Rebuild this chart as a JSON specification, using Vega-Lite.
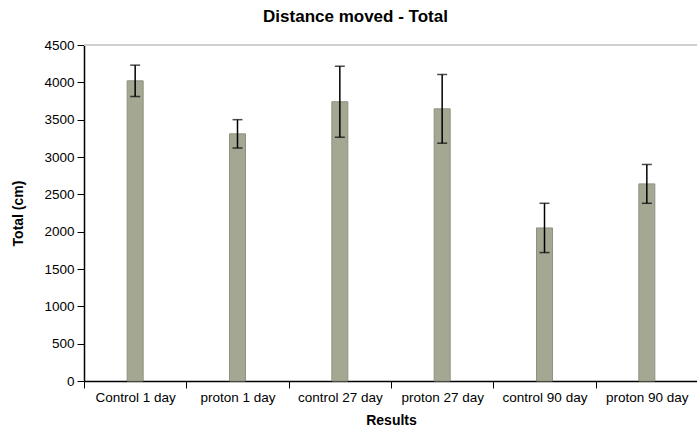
{
  "$schema": "https://vega.github.io/schema/vega-lite/v6.json",
  "width": 614,
  "height": 336,
  "autosize": {"type": "none"},
  "padding": {"left": 84, "top": 45, "right": 0, "bottom": 51},
  "background": "white",
  "title": {
    "text": "Distance moved - Total",
    "fontSize": 17,
    "font": "Liberation Sans",
    "fontWeight": "bold",
    "color": "black",
    "anchor": "middle",
    "frame": "bounds",
    "offset": 12
  },
  "config": {
    "view": {"stroke": null},
    "font": "Liberation Sans",
    "axis": {
      "labelFont": "Liberation Sans",
      "titleFont": "Liberation Sans",
      "labelColor": "black",
      "titleColor": "black",
      "domainColor": "black",
      "tickColor": "black",
      "labelFontSize": 13.5,
      "titleFontSize": 14,
      "titleFontWeight": "bold",
      "grid": false,
      "labelOverlap": false
    },
    "axisY": {"tickCount": 10, "format": "d"}
  },
  "data": {
    "values": [
      {"group": "Control 1 day", "total": 4020, "err": 210},
      {"group": "proton 1 day", "total": 3310, "err": 190},
      {"group": "control 27 day", "total": 3740, "err": 475},
      {"group": "proton 27 day", "total": 3645, "err": 460},
      {"group": "control 90 day", "total": 2050, "err": 330},
      {"group": "proton 90 day", "total": 2640, "err": 260}
    ]
  },
  "transform": [
    {"calculate": "datum.total - datum.err", "as": "lo"},
    {"calculate": "datum.total + datum.err", "as": "hi"}
  ],
  "layer": [
    {
      "mark": {"type": "bar", "size": 16, "color": "#a4a792", "stroke": "#8e917f", "strokeWidth": 1},
      "encoding": {
        "x": {
          "field": "group",
          "type": "nominal",
          "sort": null,
          "scale": {"paddingInner": 0, "paddingOuter": 0},
          "axis": {
            "title": "Results",
            "labelAngle": 0,
            "bandPosition": 0,
            "tickBand": "extent",
            "tickSize": 7,
            "labelPadding": 2,
            "titlePadding": 10,
            "domainWidth": 1.5
          }
        },
        "y": {
          "field": "total",
          "type": "quantitative",
          "scale": {"domain": [0, 4500], "nice": false, "zero": true},
          "axis": {
            "title": "Total (cm)",
            "format": "d",
            "tickCount": 10,
            "tickSize": 7,
            "labelPadding": 3,
            "titlePadding": 18,
            "domainWidth": 1.5
          }
        }
      }
    },
    {
      "mark": {"type": "rule", "color": "#d0d0d0", "strokeWidth": 2},
      "encoding": {"y": {"datum": 4500, "type": "quantitative"}}
    },
    {
      "mark": {"type": "rule", "color": "black", "strokeWidth": 1.5},
      "encoding": {
        "x": {"field": "group", "type": "nominal", "sort": null},
        "y": {"field": "lo", "type": "quantitative"},
        "y2": {"field": "hi"}
      }
    },
    {
      "mark": {"type": "tick", "color": "black", "size": 10, "thickness": 1.5, "orient": "horizontal"},
      "encoding": {
        "x": {"field": "group", "type": "nominal", "sort": null},
        "y": {"field": "lo", "type": "quantitative"}
      }
    },
    {
      "mark": {"type": "tick", "color": "black", "size": 10, "thickness": 1.5, "orient": "horizontal"},
      "encoding": {
        "x": {"field": "group", "type": "nominal", "sort": null},
        "y": {"field": "hi", "type": "quantitative"}
      }
    }
  ]
}
